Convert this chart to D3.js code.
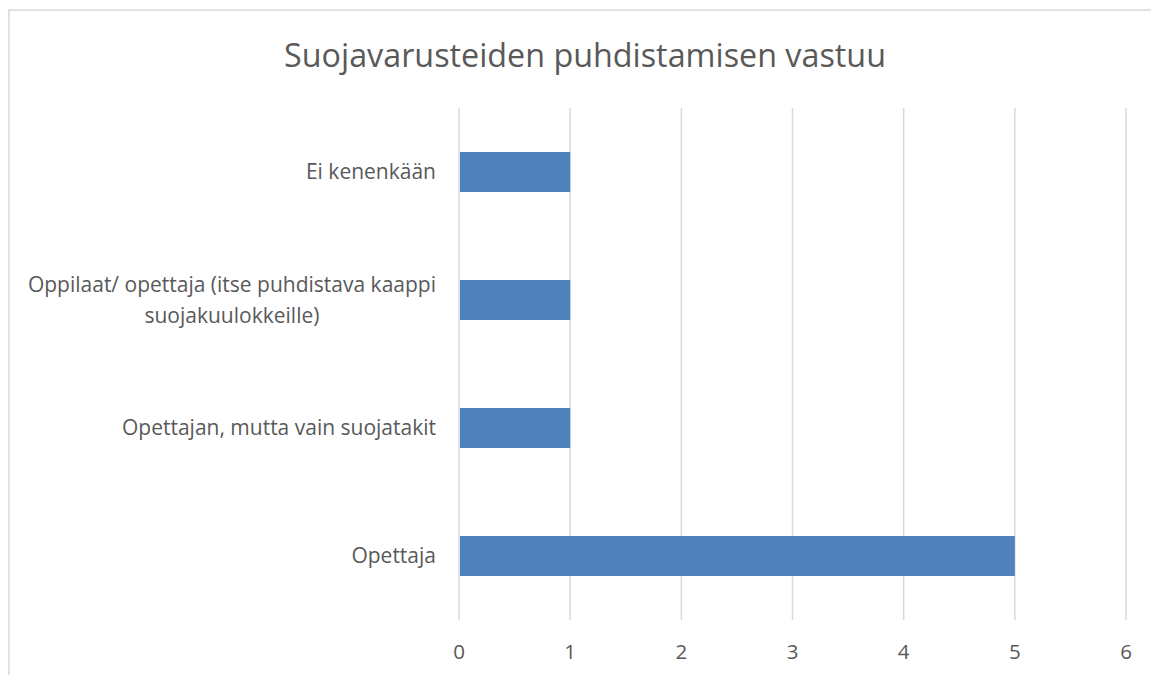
<!DOCTYPE html>
<html lang="fi">
<head>
    <meta charset="UTF-8">
    <title>Suojavarusteiden puhdistamisen vastuu</title>
    <script src="https://cdn.jsdelivr.net/npm/d3@7"></script>
    <style>
        body { margin: 0; background: #fff; }
        svg text { font-family: "Open Sans", Lato, sans-serif; fill: #595959; }
    </style>
</head>
<body>
    <svg id="chart" width="1151" height="675"></svg>

    <script>
        // data
        let categories = [
            ["Ei kenenkään"],
            ["Oppilaat/ opettaja (itse puhdistava kaappi", "suojakuulokkeille)"],
            ["Opettajan, mutta vain suojatakit"],
            ["Opettaja"]
        ];
        let values = [1, 1, 1, 5];
        let xTicks = [0, 1, 2, 3, 4, 5, 6];
        let title = "Suojavarusteiden puhdistamisen vastuu";

        let svg = d3.select("#chart");

        // chart frame
        svg.append("rect")
            .attr("x", 9).attr("y", 10)
            .attr("width", 1160).attr("height", 700)
            .attr("fill", "#fff")
            .attr("stroke", "#d9d9d9")
            .attr("stroke-width", 1.5);

        let x = d3.scaleLinear().domain([0, 6]).range([459, 1126]);
        let y = d3.scaleBand()
            .domain(d3.range(categories.length))
            .range([108, 620])
            .paddingInner(0.6875)
            .paddingOuter(0.34375);

        // gridlines
        svg.append("g")
            .selectAll("line")
            .data(xTicks)
            .join("line")
            .attr("x1", d => x(d)).attr("x2", d => x(d))
            .attr("y1", 108).attr("y2", 620)
            .attr("stroke", "#d9d9d9")
            .attr("stroke-width", 1.5);

        // bars
        svg.append("g")
            .selectAll("rect")
            .data(values)
            .join("rect")
            .attr("x", x(0) + 1)
            .attr("y", (d, i) => y(i))
            .attr("width", d => x(d) - x(0) - 1)
            .attr("height", y.bandwidth())
            .attr("fill", "#4f81bd");

        // x axis labels
        svg.append("g")
            .selectAll("text")
            .data(xTicks)
            .join("text")
            .attr("x", d => x(d))
            .attr("y", 652)
            .attr("dy", "0.35em")
            .attr("text-anchor", "middle")
            .attr("font-size", 20.5)
            .text(d => d);

        // category labels
        let lineH = 31;
        categories.forEach((lines, i) => {
            let cy = y(i) + y.bandwidth() / 2;
            let g = svg.append("g");
            let t = g.selectAll("text")
                .data(lines)
                .join("text")
                .attr("y", (d, j) => cy + (j - (lines.length - 1) / 2) * lineH)
                .attr("dy", "0.35em")
                .attr("font-size", 21)
                .text(d => d);
            let w = d3.max(t.nodes(), n => n.getComputedTextLength());
            t.attr("x", 436 - w / 2).attr("text-anchor", "middle");
        });

        // title
        svg.append("text")
            .attr("x", 585)
            .attr("y", 56)
            .attr("dy", "0.35em")
            .attr("text-anchor", "middle")
            .attr("font-size", 32.3)
            .text(title);
    </script>
</body>
</html>
